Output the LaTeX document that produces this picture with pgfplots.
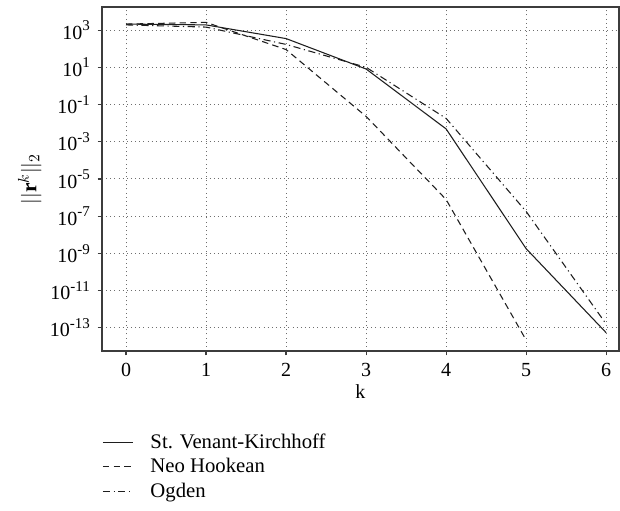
\documentclass[border=0pt]{standalone}
\usepackage{fontspec}
\setmainfont{Liberation Serif}
\usepackage{pgfplots}
\pgfplotsset{compat=1.18}
\definecolor{ink}{RGB}{30,30,30}
\definecolor{framec}{RGB}{60,60,60}
\definecolor{gridc}{RGB}{110,110,110}

\newcommand{\lblfont}{\fontsize{14}{16}\selectfont}
\newcommand{\legfont}{\fontsize{14.5}{16}\selectfont}
% power of ten with a large, raised text exponent
\newcommand{\tp}[1]{10\raisebox{0.42em}{\fontsize{10.5}{11}\selectfont #1}}

\begin{document}
\begin{tikzpicture}
\path[use as bounding box] (-71.4pt,-112pt) rectangle (362.6pt,245.7pt);
\begin{axis}[
  at={(0,0)}, anchor=south west,
  scale only axis,
  width=361.9pt, height=240.8pt,
  ymode=log,
  xmin=-0.3, xmax=6.16,
  ymin=5.75e-15, ymax=1.74e4,
  xtick={0,1,2,3,4,5,6},
  xticklabels={0,1,2,3,4,5,6},
  ytick={1e3,1e1,1e-1,1e-3,1e-5,1e-7,1e-9,1e-11,1e-13},
  yticklabels={\tp{3},\tp{1},\tp{-1},\tp{-3},\tp{-5},\tp{-7},\tp{-9},\tp{-11},\tp{-13}},
  yminorticks=false,
  tick align=outside,
  major tick length=3pt,
  xtick pos=bottom, ytick pos=left,
  tick style={framec, line width=0.8pt},
  axis line style={framec, line width=0.8pt},
  grid=major,
  major grid style={gridc, line width=0.7pt, dash pattern=on 0.7pt off 2.2pt},
  ticklabel style={font=\lblfont},
  xticklabel style={yshift=-2pt},
  yticklabel style={xshift=-2pt},
  xlabel={k},
  ylabel={$||\mathbf{r}^{k}||_2$},
  xlabel style={font=\lblfont, yshift=1pt},
  ylabel style={font=\fontsize{15}{17}\selectfont, yshift=-1pt},
  legend cell align=left,
  legend style={
    font=\legfont,
    draw=none, fill=none,
    at={(0,-0.232)}, anchor=north west,
    inner xsep=0pt, inner ysep=0pt,
    row sep=1.5pt,
    /tikz/every odd column/.append style={column sep=10pt},
  },
  legend image code/.code={%
    \draw[mark repeat=2,mark phase=2,#1] plot coordinates {(0pt,0pt) (10.5pt,0pt) (21pt,0pt)};},
]
\addplot[ink, line width=0.75pt] coordinates {
  (0,2.1e3) (1,1.9e3) (2,3.5e2) (3,8.1) (4,4.9e-3) (5,1.8e-9) (6,5.5e-14)
};
\addlegendentry{St. Venant-Kirchhoff}

\addplot[ink, line width=0.75pt, dash pattern=on 4.5pt off 3pt] coordinates {
  (0,2.1e3) (1,2.6e3) (2,9.0e1) (3,2.3e-2) (4,7.9e-7) (5,2.2e-14)
};
\addlegendentry{Neo Hookean}

\addplot[ink, line width=0.75pt, dash pattern=on 5pt off 2.5pt on 0.8pt off 2.5pt] coordinates {
  (0,1.9e3) (1,1.45e3) (2,1.7e2) (3,1.0e1) (4,1.8e-2) (5,1.8e-7) (6,1.6e-13)
};
\addlegendentry{Ogden}
\end{axis}
\end{tikzpicture}
\end{document}
